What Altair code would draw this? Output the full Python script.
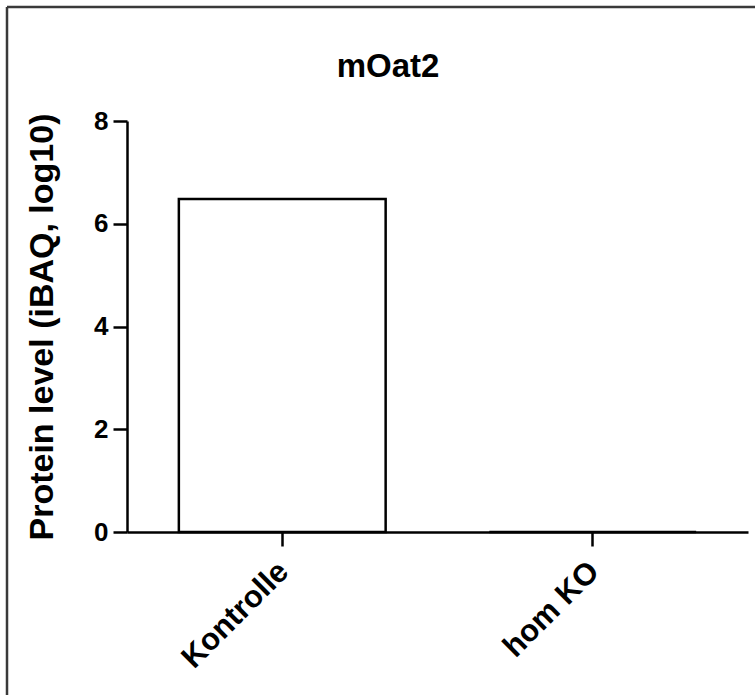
import altair as alt
import pandas as pd

groups = ["Kontrolle", "hom KO"]
values = [6.48, 0.0]
y_ticks = [0, 2, 4, 6, 8]
chart_title = "mOat2"

df = pd.DataFrame({"group": groups, "value": values})

FONT = "Liberation Sans"

bars = alt.Chart(df).mark_bar(
    fill="white", stroke="black", strokeWidth=2.5
).encode(
    x=alt.X("group:N", sort=groups,
            scale=alt.Scale(paddingInner=0.334, paddingOuter=0.167),
            axis=alt.Axis(title=None, labelAngle=-45, tickSize=14, labelPadding=10,
                          labelOffset=-9, labelFontSize=31)),
    y=alt.Y("value:Q", scale=alt.Scale(domain=[0, 8], nice=False),
            axis=alt.Axis(values=y_ticks, title="Protein level (iBAQ, log10)",
                          tickSize=14, labelPadding=5, titlePadding=34,
                          titleFontSize=34, labelFontSize=26, grid=False)),
)

frame_data = alt.Data(values=[{"k": 1}])
frame_v = alt.Chart(frame_data).mark_rule(color="#3a3a3a", strokeWidth=2.5).encode(
    x=alt.value(-120), y=alt.value(-114), y2=alt.value(580)
)
frame_h = alt.Chart(frame_data).mark_rule(color="#3a3a3a", strokeWidth=2.5).encode(
    x=alt.value(-120), x2=alt.value(640), y=alt.value(-114)
)
title_mark = alt.Chart(alt.Data(values=[{"t": chart_title}])).mark_text(
    font=FONT, fontWeight="bold", fontSize=33, color="black",
    align="center", baseline="alphabetic"
).encode(text="t:N", x=alt.value(261), y=alt.value(-44))

chart = alt.layer(frame_v, frame_h, title_mark, bars).properties(
    width=621, height=411,
    background="white",
    autosize=alt.AutoSizeParams(type="none"),
    padding={"left": 127, "top": 121, "right": 7, "bottom": 163},
).configure_view(stroke=None).configure_axis(
    domainColor="black", domainWidth=2.5, tickColor="black", tickWidth=2.5,
    labelFont=FONT, labelFontWeight="bold", labelColor="black",
    titleFont=FONT, titleFontWeight="bold", titleColor="black",
)

chart.save("out.html", embed_options={"renderer": "svg", "actions": False})
